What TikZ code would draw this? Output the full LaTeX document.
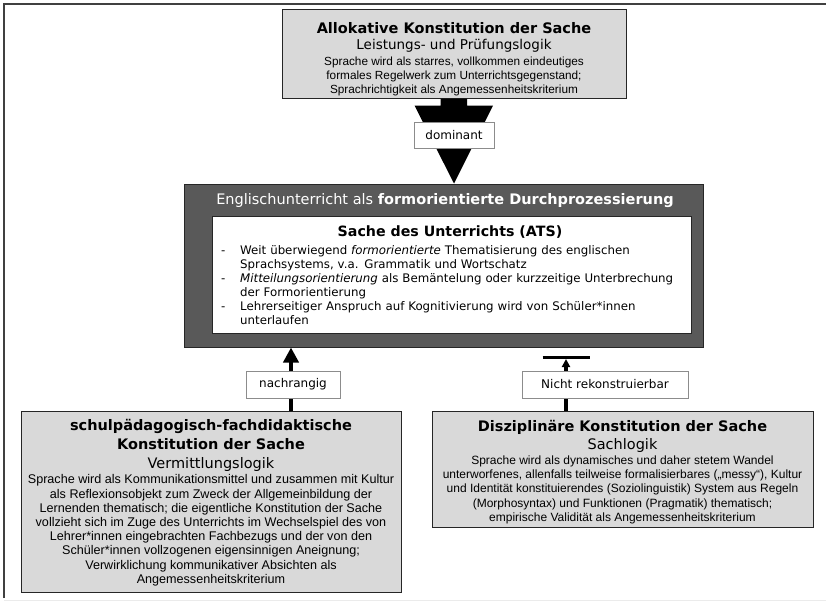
\documentclass[tikz,border=0pt]{standalone}
\usepackage{fontspec}
\setmainfont{Liberation Sans}
\newfontfamily\verd{DejaVu Sans}
\usetikzlibrary{positioning,arrows.meta}

\definecolor{boxgray}{HTML}{D9D9D9}
\definecolor{darkgray}{HTML}{595959}

\newcommand{\boxtitle}[1]{{\verd\bfseries\fontsize{14.5}{16}\selectfont #1}}
\newcommand{\boxlogic}[1]{{\verd\fontsize{14.5}{16}\selectfont #1}}
\newcommand{\dashitem}{\par\hangindent=21pt\hangafter=1\noindent\makebox[21pt][l]{\hspace{2pt}-}}

\begin{document}
\begin{tikzpicture}[x=1pt,y=-1pt,
    sachbox/.style={draw=black!85,fill=boxgray,line width=1pt,align=center,inner sep=0pt,
        font=\fontsize{12.6}{14.2}\selectfont},
    labelbox/.style={draw=black!45,fill=white,line width=0.8pt,inner sep=0pt,
        font=\verd\fontsize{12}{14}\selectfont},
    thickarrow/.style={line width=4pt,-{Triangle[length=15pt,width=15pt]}}]
    \useasboundingbox (0,0) rectangle (826,602);
    \draw[black!75,line width=1.5pt] (4,598) -- (4,4) -- (826,4);
    \draw[black!8] (4,600) -- (826,600);

    \node[sachbox,minimum width=344pt,minimum height=88pt,font=\fontsize{11.8}{14}\selectfont] (alloc) at (454,54) {
        \rule{0pt}{22pt}\boxtitle{Allokative Konstitution der Sache}\\[2pt]
        {\verd\fontsize{13.5}{16}\selectfont Leistungs- und Prüfungslogik}\\[2pt]
        Sprache wird als starres, vollkommen eindeutiges\\
        formales Regelwerk zum Unterrichtsgegenstand;\\
        Sprachrichtigkeit als Angemessenheitskriterium};

    \node[fill=darkgray,draw=black!85,line width=1pt,minimum width=519pt,minimum height=163pt] (ats) at (443.5,265.5) {};
    \node[text=white,font=\verd\fontsize{14.5}{16}\selectfont] (atstitle) at (445,201)
        {Englischunterricht als \textbf{formorientierte Durchprozessierung}};
    \node[fill=white,draw=black!85,line width=0.8pt,minimum width=479pt,minimum height=117pt] (sache) at (451.5,274.5) {};
    \node[font=\verd\bfseries\fontsize{14.2}{16}\selectfont] (sachetitle) at (450,232) {Sache des Unterrichts (ATS)};
    \node[anchor=north west,text width=470pt,inner sep=0pt,font=\verd\fontsize{11.8}{14}\selectfont] (atsliste) at (219,240) {
        \dashitem Weit überwiegend \textit{formorientierte} Thematisierung des englischen\newline
            Sprachsystems, v.a. Grammatik und Wortschatz
        \dashitem \textit{Mitteilungsorientierung} als Bemäntelung oder kurzzeitige Unterbrechung\newline
            der Formorientierung
        \dashitem Lehrerseitiger Anspruch auf Kognitivierung wird von Schüler*innen\newline
            unterlaufen\par};

    \node[sachbox,minimum width=380pt,minimum height=181pt] (schul) at (211,501.5) {
        \rule{0pt}{13pt}\boxtitle{schulpädagogisch-fachdidaktische}\\[5pt]
        \boxtitle{Konstitution der Sache}\\[5pt]
        \boxlogic{Vermittlungslogik}\\[1pt]
        Sprache wird als Kommunikationsmittel und zusammen mit Kultur\\
        als Reflexionsobjekt zum Zweck der Allgemeinbildung der\\
        Lernenden thematisch; die eigentliche Konstitution der Sache\\
        vollzieht sich im Zuge des Unterrichts im Wechselspiel des von\\
        Lehrer*innen eingebrachten Fachbezugs und der von den\\
        Schüler*innen vollzogenen eigensinnigen Aneignung;\\
        Verwirklichung kommunikativer Absichten als\\
        Angemessenheitskriterium};

    \node[sachbox,minimum width=381pt,minimum height=116pt,font=\fontsize{12}{14.2}\selectfont] (diszi) at (622.5,469) {
        \rule{0pt}{17pt}\boxtitle{Disziplinäre Konstitution der Sache}\\[4pt]
        \boxlogic{Sachlogik}\\[1pt]
        Sprache wird als dynamisches und daher stetem Wandel\\
        unterworfenes, allenfalls teilweise formalisierbares („messy“), Kultur\\
        und Identität konstituierendes (Soziolinguistik) System aus Regeln\\
        (Morphosyntax) und Funktionen (Pragmatik) thematisch;\\
        empirische Validität als Angemessenheitskriterium};

    % dominant: Blockpfeil
    \fill ([xshift=-13.5pt]alloc.south) -- ++(0,7) -- ++(-26,0) -- (ats.north -| alloc.south)
        -- ++(39,-78) -- ++(-26,0) -- ++(0,-7) -- cycle;
    \node[labelbox,minimum width=80pt,minimum height=26pt] (dominant) at (454,135) {dominant};

    % nachrangig
    \coordinate (nachfuss) at ([xshift=80pt]schul.north);
    \draw[thickarrow] (nachfuss) -- (nachfuss |- ats.south);
    \node[labelbox,minimum width=94pt,minimum height=27pt] (nachrangig) at (293,384.5) {nachrangig};

    % nicht rekonstruierbar
    \coordinate (niefuss) at ([xshift=-56.5pt]diszi.north);
    \coordinate (niebalken) at ([yshift=-10pt]niefuss |- ats.south);
    \draw[line width=3.5pt,-{Triangle[length=8pt,width=8pt]}] (niefuss) -- ([yshift=-1.5pt]niebalken);
    \draw[line width=3pt] ([xshift=-23.5pt]niebalken) -- ([xshift=23.5pt]niebalken);
    \node[labelbox,minimum width=166pt,minimum height=27pt] (nichtrek) at (605,384.5) {Nicht rekonstruierbar};
\end{tikzpicture}
\end{document}
